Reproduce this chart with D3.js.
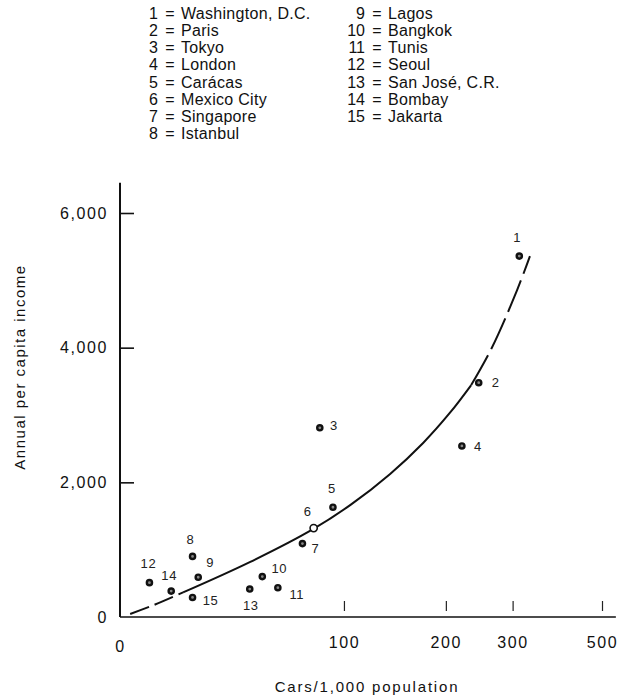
<!DOCTYPE html>
<html>
<head>
<meta charset="utf-8">
<script src="https://cdn.jsdelivr.net/npm/d3@7/dist/d3.min.js"></script>
<style>
  html, body { margin: 0; padding: 0; background: #fff; }
  svg { display: block; font-family: 'Liberation Sans', Arial, Helvetica, sans-serif; }
  text { fill: #111; }
</style>
</head>
<body>
<svg id="chart" width="619" height="697"></svg>
<script>
// City data
const cityIds = [1, 2, 3, 4, 5, 6, 7, 8, 9, 10, 11, 12, 13, 14, 15];
const cityNames = [
  'Washington, D.C.', 'Paris', 'Tokyo', 'London', 'Carácas', 'Mexico City',
  'Singapore', 'Istanbul', 'Lagos', 'Bangkok', 'Tunis', 'Seoul',
  'San José, C.R.', 'Bombay', 'Jakarta',
];
const carsPer1000 = [312, 245, 83, 221, 92, 79, 72, 21, 23, 50, 58, 7.6, 44, 14, 21];
const incomePerCapita = [5360, 3480, 2810, 2540, 1630, 1320, 1090, 900, 590, 600, 435, 510, 415, 385, 290];

// Fitted curve
const curveCars = [2.5, 9.2, 17.8, 44, 78.6, 105, 139, 173, 205, 234, 265, 308, 332];
const curveIncome = [45, 185, 365, 815, 1305, 1665, 2125, 2585, 3030, 3445, 3995, 4855, 5360];

const xTicks = [0, 100, 200, 300, 500];
const yTicks = [0, 2000, 4000, 6000];

const svg = d3.select('#chart');

const x = d3.scaleSymlog().constant(47).domain([0, 500]).range([120, 602]);
const y = d3.scaleLinear().domain([0, 6000]).range([617, 213]);

// label placement around each dot (dx, dy)
const labelOffset = {
  1: [-2, -19], 2: [17, 0], 3: [14, -2], 4: [16, 0], 5: [-1, -19],
  6: [-6, -17], 7: [13, 5], 8: [-2, -17], 9: [12, -15], 10: [17, -8],
  11: [19, 7], 12: [-1, -19], 13: [1, 16], 14: [-2, -16], 15: [18, 3],
};

// Legend
const legend = svg.append('g').style('font-size', '16px');
cityIds.forEach((id, i) => {
  const col = i < 8 ? 0 : 1;
  const row = col === 0 ? i : i - 8;
  const yPos = 19 + row * 17.15;
  const numX = col === 0 ? 158 : 365;
  legend.append('text').attr('x', numX).attr('y', yPos)
    .style('text-anchor', 'end').text(id);
  legend.append('text').attr('x', numX + 12).attr('y', yPos)
    .style('text-anchor', 'middle').text('=');
  legend.append('text').attr('x', numX + 23).attr('y', yPos)
    .style('letter-spacing', '0.3px')
    .text(cityNames[i]);
});

// Axes
const xAxis = svg.append('g')
  .attr('transform', `translate(0,${y(0)})`)
  .call(d3.axisBottom(x).tickValues(xTicks).tickFormat(d3.format(',')).tickSize(0));
xAxis.select('.domain').remove();
xAxis.selectAll('.tick text')
  .attr('y', (d) => (d === 0 ? 24 : 20))
  .style('font-size', '16px')
  .style('letter-spacing', '1.6px')
  .style('font-family', 'inherit')
  .attr('fill', '#111');
xAxis.selectAll('.tick')
  .filter((d) => d > 0)
  .append('line')
  .attr('y1', -16)
  .attr('y2', -6)
  .attr('stroke', '#222')
  .attr('stroke-width', 1.2);

svg.append('line')
  .attr('x1', x(0)).attr('x2', x(540))
  .attr('y1', y(0)).attr('y2', y(0))
  .attr('stroke', '#111').attr('stroke-width', 1.6);

const yAxis = svg.append('g')
  .attr('transform', `translate(${x(0)},0)`)
  .call(d3.axisLeft(y).tickValues(yTicks).tickFormat(d3.format(',')).tickSize(0));
yAxis.select('.domain').remove();
yAxis.selectAll('.tick text')
  .attr('x', -12)
  .style('font-size', '16px')
  .style('letter-spacing', '1.6px')
  .style('font-family', 'inherit')
  .attr('fill', '#111');
yAxis.selectAll('.tick')
  .filter((d) => d > 0)
  .append('line')
  .attr('x1', 0)
  .attr('x2', 14)
  .attr('stroke', '#111')
  .attr('stroke-width', 1.6);

svg.append('line')
  .attr('x1', x(0)).attr('x2', x(0))
  .attr('y1', y(6450)).attr('y2', y(0))
  .attr('stroke', '#111').attr('stroke-width', 2);

// Axis titles
svg.append('text')
  .attr('transform', `translate(20,${(y(0) + y(6000)) / 2 - 48}) rotate(-90)`)
  .attr('dy', '0.35em')
  .style('text-anchor', 'middle')
  .style('font-size', '15px')
  .style('letter-spacing', '1.5px')
  .text('Annual per capita income');

svg.append('text')
  .attr('x', 367)
  .attr('y', 692)
  .style('text-anchor', 'middle')
  .style('font-size', '15px')
  .style('letter-spacing', '1.8px')
  .text('Cars/1,000 population');

// Fitted curve: dashed at both ends, solid in the middle
const curvePts = curveCars.map((c, i) => [c, curveIncome[i]]);
const line = d3.line()
  .x((d) => x(d[0]))
  .y((d) => y(d[1]))
  .curve(d3.curveCatmullRom.alpha(0.5));

const segments = [
  { pts: curvePts.slice(0, 3), dash: '20,6' },
  { pts: curvePts.slice(2, 10), dash: null },
  { pts: curvePts.slice(9), dash: '34,7' },
];
segments.forEach((s) => {
  svg.append('path')
    .attr('d', line(s.pts))
    .attr('fill', 'none')
    .attr('stroke', '#111')
    .attr('stroke-width', 2)
    .attr('stroke-dasharray', s.dash);
});

// Points
const points = cityIds.map((id, i) => ({
  id,
  cars: carsPer1000[i],
  income: incomePerCapita[i],
}));

svg.append('g').selectAll('circle')
  .data(points)
  .join('circle')
  .attr('cx', (d) => x(d.cars))
  .attr('cy', (d) => y(d.income))
  .attr('r', (d) => (d.id === 6 ? 3.6 : 2.6))
  .attr('fill', (d) => (d.id === 6 ? '#fff' : '#888'))
  .attr('stroke', '#111')
  .attr('stroke-width', (d) => (d.id === 6 ? 1.6 : 2.4));

svg.append('g').selectAll('text')
  .data(points)
  .join('text')
  .attr('x', (d) => x(d.cars) + labelOffset[d.id][0])
  .attr('y', (d) => y(d.income) + labelOffset[d.id][1])
  .attr('dy', '0.35em')
  .style('text-anchor', 'middle')
  .style('font-size', '13px')
  .style('letter-spacing', '0.6px')
  .style('fill', '#222')
  .text((d) => d.id);
</script>
</body>
</html>
